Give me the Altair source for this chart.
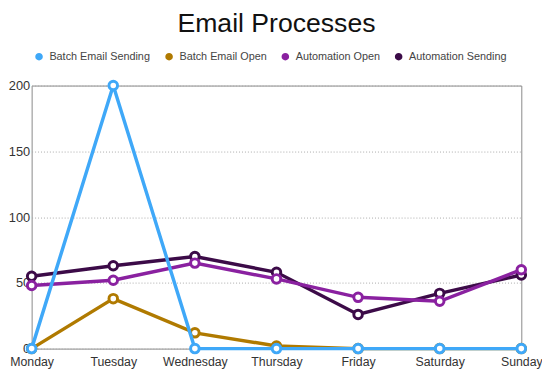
import altair as alt
import pandas as pd

days = ["Monday", "Tuesday", "Wednesday", "Thursday", "Friday", "Saturday", "Sunday"]
series_names = ["Batch Email Sending", "Batch Email Open", "Automation Open", "Automation Sending"]
batch_sending = [0, 200, 0, 0, 0, 0, 0]
batch_open = [0, 38, 12, 2, 0, 0, 0]
auto_open = [48, 52, 65, 53, 39, 36, 60]
auto_sending = [55, 63, 70, 58, 26, 42, 56]
colors = ["#3FA8F8", "#B07A00", "#8A21A0", "#3C0B48"]
y_ticks = [0, 50, 100, 150, 200]

values = [batch_sending, batch_open, auto_open, auto_sending]
rows = []
for name, vals in zip(series_names, values):
    for d, v in zip(days, vals):
        rows.append({"day": d, "value": v, "series": name})
df = pd.DataFrame(rows)

color = alt.Color(
    "series:N",
    scale=alt.Scale(domain=series_names, range=colors),
    legend=alt.Legend(
        title=None,
        orient="none",
        direction="horizontal",
        legendX=2,
        legendY=-35,
        symbolType="circle",
        symbolSize=30,
        symbolStrokeWidth=2.2,
        symbolFillColor="white",
        labelFont="Liberation Sans",
        labelFontSize=11,
        labelColor="#444444",
        columnPadding=11,
        labelOffset=5,
    ),
)

x = alt.X(
    "day:N",
    sort=days,
    scale=alt.Scale(type="point", domain=days, padding=0),
    axis=alt.Axis(
        title=None,
        labelAngle=0,
        labelFont="Liberation Sans",
        labelFontSize=12.5,
        labelColor="#333333",
        ticks=False,
        domain=False,
        grid=False,
        labelPadding=7,
    ),
)
y = alt.Y(
    "value:Q",
    scale=alt.Scale(domain=[0, 200], nice=False),
    axis=alt.Axis(
        title=None,
        values=y_ticks,
        labelFont="Liberation Sans",
        labelFontSize=13,
        labelColor="#333333",
        ticks=False,
        domain=False,
        grid=True,
        gridColor="#aaaaaa",
        gridDash=[1, 2],
        gridWidth=1,
        labelPadding=2,
    ),
)

layers = []
for name in reversed(series_names):
    layers.append(
        alt.Chart(df)
        .transform_filter(alt.datum.series == name)
        .mark_line(
            strokeWidth=3.5,
            point=alt.OverlayMarkDef(filled=True, fill="white", size=75, strokeWidth=3),
        )
        .encode(x=x, y=y, color=color, stroke=color)
    )

chart = (
    alt.layer(*layers)
    .properties(
        width=497,
        height=267,
        autosize=alt.AutoSizeParams(type="none"),
        padding={"left": 24, "top": 76, "right": 21, "bottom": 20},
        title=alt.TitleParams(
            "Email Processes",
            font="Liberation Sans",
            fontSize=27,
            fontWeight=300,
            color="#111111",
            anchor="middle",
            offset=13,
        ),
    )
    .configure_view(stroke="#888888", strokeWidth=1)
)

chart.save("out.html", embed_options={"renderer": "svg", "actions": False})
